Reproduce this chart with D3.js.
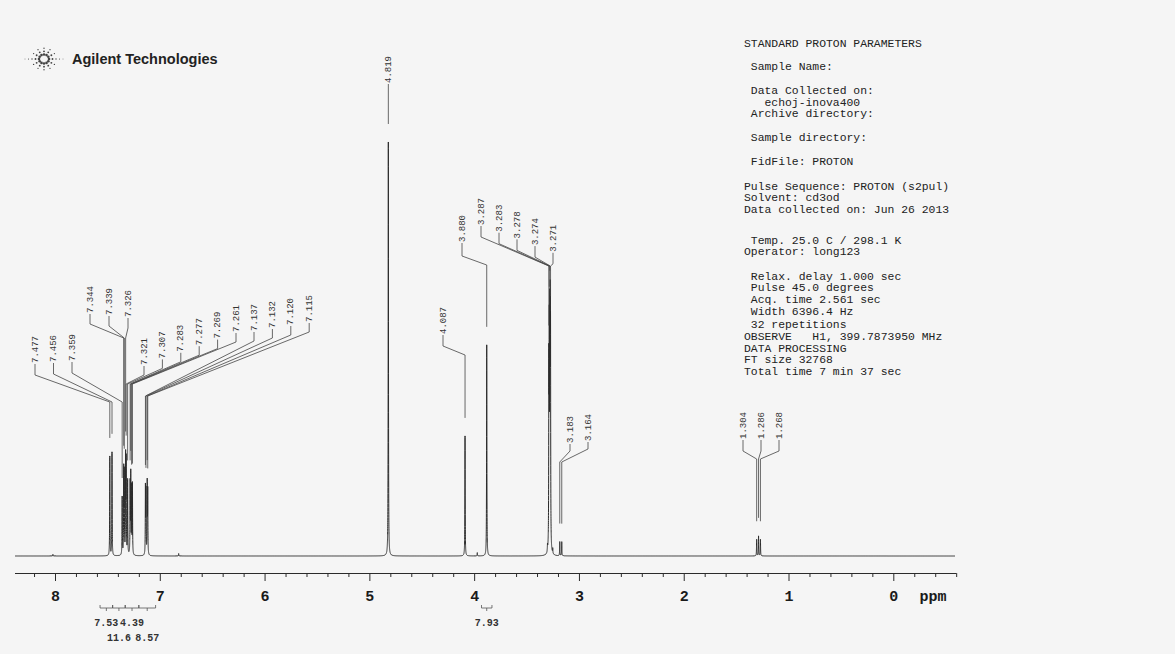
<!DOCTYPE html>
<html lang="en">
<head>
<meta charset="UTF-8">
<title>PROTON spectrum</title>
<style>
body { margin: 0; background: #f5f5f5; overflow: hidden; }
svg { display: block; }
.mono { font-family: "Liberation Mono", "DejaVu Sans Mono", monospace; }
</style>
</head>
<body>
<svg id="chart" width="1175" height="654"></svg>
<script src="https://d3js.org/d3.v7.min.js"></script>
<script>
// labelled peaks: shift (ppm) and intensity (4.819 = 100)
const peakShifts = [7.477, 7.456, 7.359, 7.344, 7.339, 7.326, 7.321, 7.307, 7.283, 7.277, 7.269, 7.261,
    7.137, 7.132, 7.120, 7.115, 4.819, 4.087, 3.880, 3.287, 3.283, 3.278, 3.274, 3.271, 3.183, 3.164,
    1.304, 1.286, 1.268];
const peakHeights = [24, 25, 14, 20, 19, 23, 22, 18, 17, 19, 16, 17,
    16, 15, 17, 15, 100, 29, 51, 42, 48, 50, 48, 44, 3.4, 3.4,
    4, 4.8, 4];

// small unlabelled bumps
const minorShifts = [8.02, 6.82, 3.97, 3.30, 3.25];
const minorHeights = [0.4, 0.6, 0.8, 1.5, 1.2];

// integrals
const integralFrom = [7.57, 7.45, 7.33, 7.20, 3.93];
const integralTo = [7.45, 7.33, 7.20, 7.04, 3.83];
const integralValues = ["7.53", "11.6", "4.39", "8.57", "7.93"];

// axis
const axisLabels = [8, 7, 6, 5, 4, 3, 2, 1, 0];

const paramLines = [
    "STANDARD PROTON PARAMETERS",
    " Sample Name:",
    " Data Collected on:",
    "   echoj-inova400",
    " Archive directory:",
    " Sample directory:",
    " FidFile: PROTON",
    "Pulse Sequence: PROTON (s2pul)",
    "Solvent: cd3od",
    "Data collected on: Jun 26 2013",
    " Temp. 25.0 C / 298.1 K",
    "Operator: long123",
    " Relax. delay 1.000 sec",
    " Pulse 45.0 degrees",
    " Acq. time 2.561 sec",
    " Width 6396.4 Hz",
    " 32 repetitions",
    "OBSERVE   H1, 399.7873950 MHz",
    "DATA PROCESSING",
    "FT size 32768",
    "Total time 7 min 37 sec"
];
const paramY = [43, 66, 90, 102, 113, 137, 161, 186, 197, 209, 240, 251, 276, 287, 299, 311, 324, 336, 348, 359, 371];

// how the peak labels are set out above the spectrum
const labelLayout = [
    { shifts: [7.477, 7.456, 7.359], x0: 35, dx: 18.5, y0: 363, dy: -1, tick: 12, join: 402 },
    { shifts: [7.344, 7.339, 7.326], x0: 90, dx: 19, y0: 313, dy: 2, tick: 11, join: 338 },
    { shifts: [7.321, 7.307, 7.283, 7.277, 7.269, 7.261], x0: 144, dx: 18.4, y0: 365, dy: -6.6, tick: 10, join: 384 },
    { shifts: [7.137, 7.132, 7.120, 7.115], x0: 254, dx: 18.4, y0: 331, dy: -3, tick: 10, join: 396 },
    { shifts: [4.819], x0: null, dx: 0, y0: 83, dy: 0, tick: 10, join: 93 },
    { shifts: [4.087], x0: 443, dx: 0, y0: 334, dy: 0, tick: 12, join: 355 },
    { shifts: [3.880], x0: 462, dx: 0, y0: 242, dy: 0, tick: 14, join: 265 },
    { shifts: [3.287, 3.283, 3.278, 3.274, 3.271], x0: 481, dx: 18, y0: 225, dy: 6.7, tick: 12, join: 266 },
    { shifts: [3.183, 3.164], x0: 570, dx: 18, y0: 443, dy: -2, tick: 8, join: 462 },
    { shifts: [1.304, 1.286, 1.268], x0: 743, dx: 18, y0: 439, dy: 0, tick: 12, join: 459 }
];

const svg = d3.select("#chart");
const ink = "#2b2b2b";

const x = d3.scaleLinear().domain([8, 0]).range([55, 893.3]);
const y = d3.scaleLinear().domain([0, 100]).range([556, 142]);

// lorentzian line shape
const hw = 0.0016;
const allShifts = peakShifts.concat(minorShifts);
const allHeights = peakHeights.concat(minorHeights);
function spec(p) {
    let s = 0;
    for (let i = 0; i < allShifts.length; i++) {
        const d = (p - allShifts[i]) / hw;
        s += allHeights[i] / (1 + d * d);
    }
    return s;
}

// sample points: coarse everywhere, fine near each line
const pLeft = x.invert(15), pRight = x.invert(955);
let pts = d3.range(pRight, pLeft, 0.004);
allShifts.forEach(c => {
    pts = pts.concat(d3.range(c - 0.03, c + 0.03, 0.0002));
});
pts.push(pLeft);
pts.sort((a, b) => b - a);

const line = d3.line().x(p => x(p)).y(p => y(spec(p)));
svg.append("path")
    .attr("d", line(pts))
    .attr("fill", "none")
    .attr("stroke", ink)
    .attr("stroke-width", 1);

// axis
const axisY = 573;
const ticks = d3.range(-6, 84, 2).map(d => d / 10);
const axis = d3.axisBottom(x)
    .tickValues(ticks)
    .tickSize(4)
    .tickSizeOuter(0)
    .tickFormat(d => axisLabels.includes(d) ? d : "");
const ax = svg.append("g")
    .attr("transform", `translate(0,${axisY})`)
    .call(axis);
ax.select(".domain").attr("d", `M15,0.5H956`).attr("stroke", ink);
ax.selectAll(".tick line").attr("stroke", ink)
    .attr("y2", d => axisLabels.includes(d) ? 8 : 4);
ax.selectAll(".tick text")
    .attr("class", "mono")
    .attr("y", 28)
    .attr("dy", 0)
    .attr("fill", "#1a1a1a")
    .style("font-size", "15px")
    .style("font-weight", "bold");
svg.append("text")
    .attr("class", "mono")
    .attr("x", 933).attr("y", axisY + 28)
    .attr("text-anchor", "middle")
    .attr("fill", "#1a1a1a")
    .style("font-size", "15px")
    .style("font-weight", "bold")
    .text("ppm");

// peak labels and leaders
const labels = svg.append("g");
labelLayout.forEach(g => {
    g.shifts.forEach((s, i) => {
        const px = x(s);
        const lx = g.x0 === null ? px : g.x0 + i * g.dx;
        const yb = g.y0 + i * g.dy;
        const top = y(spec(s));
        const yEnd = Math.max(g.join, top - 18);
        labels.append("path")
            .attr("d", `M${lx},${yb + 1}V${yb + g.tick}L${px},${g.join}V${yEnd}`)
            .attr("fill", "none")
            .attr("stroke", "#444")
            .attr("stroke-width", 0.8);
        labels.append("text")
            .attr("class", "mono")
            .attr("transform", `translate(${lx + 0.5},${yb}) rotate(-90)`)
            .attr("dominant-baseline", "central")
            .attr("fill", "#333")
            .style("font-size", "9px")
            .text(s.toFixed(3));
    });
});

// integral brackets
const integ = svg.append("g");
integralValues.forEach((v, i) => {
    const x1 = x(integralFrom[i]), x2 = x(integralTo[i]), xc = (x1 + x2) / 2;
    integ.append("path")
        .attr("d", `M${x1},605V608H${x2}V605M${xc},608V611`)
        .attr("fill", "none")
        .attr("stroke", "#555")
        .attr("stroke-width", 0.8);
    integ.append("text")
        .attr("class", "mono")
        .attr("x", xc).attr("y", i % 2 === 0 ? 626 : 641)
        .attr("text-anchor", "middle")
        .attr("fill", "#333")
        .style("font-size", "10px")
        .style("font-weight", "bold")
        .text(v);
});

// parameter block
svg.append("g").selectAll("text")
    .data(paramLines)
    .join("text")
    .attr("class", "mono")
    .attr("x", 744)
    .attr("y", (d, i) => paramY[i] + 3.5)
    .attr("fill", "#222")
    .style("font-size", "11.4px")
    .style("white-space", "pre")
    .text(d => d);

// logo
const logo = svg.append("g").attr("transform", "translate(44,59)");
d3.range(0, 360, 30).forEach(a => {
    const rad = a * Math.PI / 180;
    const horiz = a === 0 || a === 180;
    const radii = horiz ? [5, 8.5, 12, 15.5, 19] : [5, 8.5, 12];
    radii.forEach((r, k) => {
        logo.append("circle")
            .attr("cx", r * Math.cos(rad))
            .attr("cy", r * Math.sin(rad) * 0.9)
            .attr("r", [1.3, 0.95, 0.7, 0.55, 0.45][k])
            .attr("fill", "#444");
    });
});
svg.append("text")
    .attr("x", 72).attr("y", 64)
    .attr("fill", "#222")
    .style("font-family", "'Liberation Sans', Arial, sans-serif")
    .style("font-size", "14.5px")
    .style("font-weight", "bold")
    .text("Agilent Technologies");
</script>
</body>
</html>
